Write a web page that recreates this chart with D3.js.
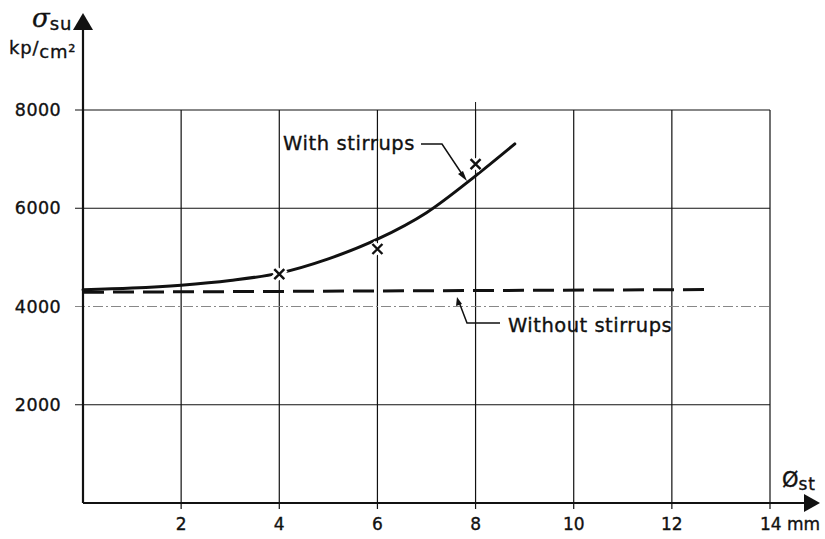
<!DOCTYPE html>
<html><head><meta charset="utf-8">
<script src="https://cdn.jsdelivr.net/npm/d3@7"></script>
<style>
html,body{margin:0;padding:0;background:#fff;}
text{font-family:"DejaVu Sans",sans-serif;fill:#111;stroke:#111;stroke-width:0.35px;}
</style></head>
<body>
<svg id="chart" width="825" height="539"></svg>
<script>
// ---- data ----
const xGrid = [2, 4, 6, 8, 10, 12, 14];
const xTickLabels = ["2", "4", "6", "8", "10", "12", "14 mm"];
const yGrid = [2000, 4000, 6000, 8000];
const yTickLabels = ["2000", "4000", "6000", "8000"];
const withX = [0, 1, 2, 3, 4, 5, 6, 7, 8, 8.8];
const withY = [4340, 4375, 4435, 4530, 4680, 4970, 5370, 5910, 6660, 7310];
const markX = [4, 6, 8];
const markY = [4660, 5170, 6900];
const withoutX = [0, 12.7];
const withoutY = [4290, 4345];

const svg = d3.select("#chart");
const x = d3.scaleLinear().domain([0, 14]).range([83, 770]);
const y = d3.scaleLinear().domain([0, 8000]).range([503, 110]);
const ink = "#111";

// grid
const g = svg.append("g");
g.selectAll("line.v").data(xGrid).join("line")
  .attr("x1", d => x(d)).attr("x2", d => x(d))
  .attr("y1", y(0) + 6).attr("y2", y(8000))
  .attr("stroke", ink).attr("stroke-width", 1.2);
g.selectAll("line.h").data(yGrid).join("line")
  .attr("x1", x(0) - 8).attr("x2", x(14))
  .attr("y1", d => y(d)).attr("y2", d => y(d))
  .attr("stroke", d => d === 4000 ? "#888" : ink)
  .attr("stroke-width", d => d === 4000 ? 1 : 1.2)
  .attr("stroke-dasharray", d => d === 4000 ? "10,3,2,3" : null);
// small tick above 8000 at x=8
g.append("line").attr("x1", x(8)).attr("x2", x(8)).attr("y1", y(8000)).attr("y2", y(8000) - 8)
  .attr("stroke", ink).attr("stroke-width", 1);

// axes
svg.append("line").attr("x1", x(0)).attr("x2", x(0)).attr("y1", y(0)).attr("y2", 28)
  .attr("stroke", ink).attr("stroke-width", 2.2);
svg.append("path").attr("d", `M${x(0)},13 L${x(0) - 10},30 L${x(0) + 10},30 Z`).attr("fill", ink);
svg.append("line").attr("x1", x(0)).attr("x2", 808).attr("y1", y(0)).attr("y2", y(0))
  .attr("stroke", ink).attr("stroke-width", 2.2);
svg.append("path").attr("d", `M820,${y(0)} L804,${y(0) - 9} L804,${y(0) + 9} Z`).attr("fill", ink);

// tick labels
svg.selectAll("text.yl").data(yGrid).join("text")
  .attr("x", 61).attr("y", d => y(d) + 6).attr("text-anchor", "end")
  .attr("font-size", 17.5).attr("letter-spacing", 0.4).text((d, i) => yTickLabels[i]);
svg.selectAll("text.xl").data(xGrid).join("text")
  .attr("x", (d, i) => i === xGrid.length - 1 ? x(d) - 10 : x(d))
  .attr("y", 530).attr("text-anchor", (d, i) => i === xGrid.length - 1 ? "start" : "middle")
  .attr("font-size", 17).text((d, i) => xTickLabels[i]);

// axis titles
const yt = svg.append("text").attr("x", 32).attr("y", 27).attr("font-size", 26);
yt.append("tspan").attr("font-family", "DejaVu Serif").attr("font-style", "italic").text("σ");
yt.append("tspan").attr("font-size", 18).attr("dy", 3).attr("letter-spacing", 0.8).text("su");
const yu = svg.append("text").attr("x", 9).attr("y", 54).attr("font-size", 18).attr("letter-spacing", 0.8);
yu.append("tspan").text("kp/");
yu.append("tspan").attr("dy", 4).text("cm²");
const xt = svg.append("text").attr("x", 782).attr("y", 487).attr("font-size", 21);
xt.append("tspan").text("Ø");
xt.append("tspan").attr("font-size", 17).attr("dy", 3).attr("letter-spacing", 0.8).text("st");

// without stirrups dashed
const line = d3.line().x(d => x(d[0])).y(d => y(d[1]));
svg.append("path").datum(d3.zip(withoutX, withoutY)).attr("d", line)
  .attr("fill", "none").attr("stroke", ink).attr("stroke-width", 3)
  .attr("stroke-dasharray", "21,9");

// with stirrups curve
const curve = d3.line().x(d => x(d[0])).y(d => y(d[1])).curve(d3.curveMonotoneX);
svg.append("path").datum(d3.zip(withX, withY)).attr("d", curve)
  .attr("fill", "none").attr("stroke", ink).attr("stroke-width", 3).attr("stroke-linecap", "round");

// markers with white halo
const marks = d3.zip(markX, markY);
const cross = s => `M${-s},${-s}L${s},${s}M${-s},${s}L${s},${-s}`;
svg.selectAll("path.halo").data(marks).join("path")
  .attr("transform", d => `translate(${x(d[0])},${y(d[1])})`)
  .attr("d", cross(5.5)).attr("stroke", "#fff").attr("stroke-width", 8).attr("fill", "none");
svg.selectAll("path.mk").data(marks).join("path")
  .attr("transform", d => `translate(${x(d[0])},${y(d[1])})`)
  .attr("d", cross(5)).attr("stroke", ink).attr("stroke-width", 2.4).attr("fill", "none");

// annotations
svg.append("text").attr("x", 283).attr("y", 150).attr("font-size", 19.5).attr("letter-spacing", 0.6).text("With stirrups");
svg.append("path").attr("d", "M421,144 L442,144 L464,177").attr("fill", "none").attr("stroke", ink).attr("stroke-width", 1.5);
svg.append("path").attr("d", "M467,181 L458,174 L463,171 Z").attr("fill", ink);

svg.append("text").attr("x", 508).attr("y", 332).attr("font-size", 19.5).attr("letter-spacing", 0.5).text("Without stirrups");
svg.append("path").attr("d", "M500,323 L467,323 L459,302").attr("fill", "none").attr("stroke", ink).attr("stroke-width", 1.5);
svg.append("path").attr("d", "M457,297 L456,306 L462,304 Z").attr("fill", ink);
</script>
</body></html>
